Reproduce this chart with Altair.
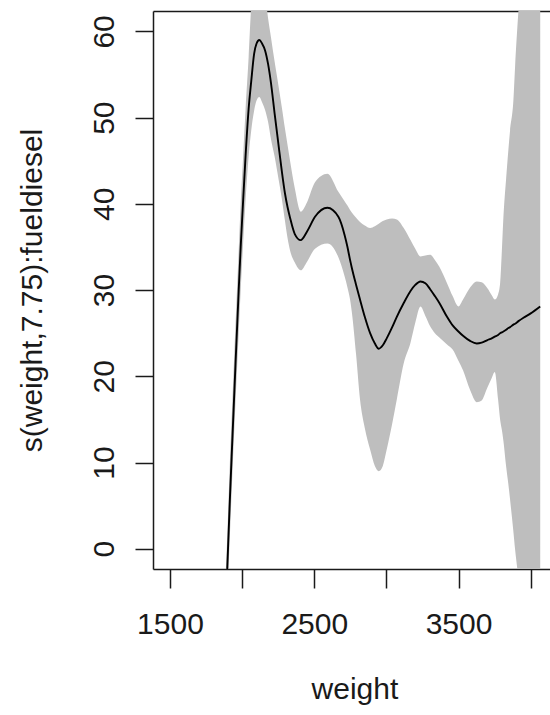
import altair as alt
import pandas as pd

# ---- data ----
weight = [1880, 1897, 1915, 1932, 1954, 1976, 1990, 2007, 2024, 2045, 2063, 2083, 2100, 2119, 2138,
          2159, 2180, 2200, 2225, 2251, 2275, 2297, 2315, 2332, 2365, 2406, 2450, 2505, 2591, 2667,
          2710, 2730, 2748, 2760, 2790, 2817, 2850, 2887, 2920, 2947, 2975, 3002, 3040, 3072, 3120,
          3167, 3200, 3236, 3270, 3303, 3336, 3367, 3420, 3459, 3499, 3531, 3580, 3626, 3660, 3700,
          3730, 3751, 3774, 3788, 3800, 3811, 3830, 3845, 3857, 3880, 3892, 3915, 3950, 4000, 4066]

fit = [-9.8, -2.3, 5.7, 12.6, 21.4, 29.9, 35.0, 40.4, 45.6, 51.0, 54.2, 57.4, 58.6, 59.0, 58.6,
       57.8, 56.2, 54.0, 50.5, 47.0, 43.8, 41.2, 39.6, 38.4, 36.5, 35.8, 36.8, 38.5, 39.55, 38.5,
       36.4, 35.0, 33.5, 32.6, 30.6, 28.9, 26.9, 25.0, 23.8, 23.2, 23.6, 24.4, 25.7, 26.9, 28.5,
       29.9, 30.6, 31.0, 30.8, 30.1, 29.3, 28.5, 26.9, 25.9, 25.2, 24.7, 24.1, 23.8, 23.9, 24.2,
       24.4, 24.6, 24.8, 25.0, 25.1, 25.2, 25.4, 25.6, 25.7, 26.0, 26.1, 26.4, 26.8, 27.3, 28.1]

upper = [-5, 1.5, 10, 17, 26, 34.5, 40, 45.5, 51, 57, 63, 66.5, 68, 68.5, 67.5,
         64.5, 61.5, 59.3, 56.5, 53.8, 51.2, 48.7, 46.8, 45.0, 41.8, 39.1, 40.2, 42.5, 43.5, 41.4,
         40.3, 39.8, 39.3, 39.0, 38.4, 37.9, 37.5, 37.2, 37.4, 37.7, 38.0, 38.2, 38.3, 38.2, 37.2,
         35.8, 34.8, 33.9, 34.0, 34.1, 33.5, 32.7, 30.8, 29.3, 28.1, 28.9, 30.3, 31.0, 30.9, 30.2,
         29.4, 28.9, 29.5, 30.8, 34.5, 38.5, 43.0, 46.2, 48.5, 52.0, 56.0, 62.4, 70, 80, 90]

lower = [-14, -6, 1.5, 8.5, 17, 25, 30, 35.5, 40.5, 45.5, 48.5, 50.8, 52.0, 52.4, 51.8,
         50.9, 49.5, 47.5, 45.5, 43.0, 40.6, 38.0, 36.0, 34.6, 33.2, 32.3, 33.3, 34.8, 35.4, 33.8,
         31.6, 30.3, 28.9, 27.5, 22.5, 17.3, 14.0, 11.5, 9.6, 9.0, 9.6, 11.5, 14.5, 17.3, 21.5,
         23.9, 26.2, 28.1, 27.0, 25.8, 25.0, 24.5, 23.7, 23.1, 21.8, 20.7, 18.4, 17.0, 17.2, 18.7,
         19.8, 20.5, 17.3, 15.0, 13.8, 12.5, 9.5, 7.5, 5.7, 2.0, -0.1, -3.5, -10, -20, -30]

y_ticks = [0, 10, 20, 30, 40, 50, 60]
x_ticks = [1500, 2000, 2500, 3000, 3500, 4000]

x_title = "weight"
y_title = "s(weight,7.75):fueldiesel"

df = pd.DataFrame({"weight": weight, "fit": fit, "upper": upper, "lower": lower})

# ---- styling ----
FONT = "Liberation Sans"
FS = 30
INK = "#1a1a1a"
W, H = 397, 558

xscale = alt.Scale(domain=[1382.2, 4133.8], nice=False, zero=False)
yscale = alt.Scale(domain=[-2.35, 62.37], nice=False, zero=False)

y_axis = alt.Axis(
    orient="left", values=y_ticks, format="d", grid=False,
    domainColor=INK, domainWidth=1.5, tickColor=INK, tickWidth=1.5, tickSize=18,
    labelAngle=270, labelAlign="center", labelBaseline="alphabetic", labelPadding=22,
    labelFont=FONT, labelFontSize=FS, labelColor=INK,
    title=y_title, titleFont=FONT, titleFontSize=FS, titleFontWeight="normal", titleColor=INK,
    titleAngle=270, titleAlign="center", titleBaseline="alphabetic", titleX=-112, titleY=H / 2,
)

x_axis_bottom = alt.Axis(
    orient="bottom", values=x_ticks, grid=False,
    labelExpr="datum.value % 1000 == 500 ? format(datum.value, 'd') : ''",
    domainColor=INK, domainWidth=1.5, tickColor=INK, tickWidth=1.5, tickSize=19,
    labelAlign="center", labelBaseline="alphabetic", labelPadding=45,
    labelFont=FONT, labelFontSize=FS, labelColor=INK, labelOverlap=False,
    title=x_title, titleFont=FONT, titleFontSize=FS, titleFontWeight="normal", titleColor=INK,
    titleAlign="center", titleBaseline="alphabetic", titleX=201.4, titleY=129,
)

x_axis_top = alt.Axis(
    orient="top", grid=False, labels=False, ticks=False, title=None,
    domainColor=INK, domainWidth=1.5,
)

band = alt.Chart(df).mark_area(color="#bebebe", interpolate="monotone", clip=True).encode(
    x=alt.X("weight:Q", scale=xscale, axis=x_axis_top),
    y=alt.Y("upper:Q", scale=yscale, axis=y_axis),
    y2="lower:Q",
)

line = alt.Chart(df).mark_line(color="black", strokeWidth=1.9, interpolate="monotone", clip=True).encode(
    x=alt.X("weight:Q", scale=xscale, axis=x_axis_bottom),
    y=alt.Y("fit:Q", scale=yscale, axis=y_axis),
)

chart = (
    alt.layer(band, line)
    .resolve_axis(x="independent")
    .properties(
        width=W, height=H,
        padding={"left": 153, "top": 11, "right": 0, "bottom": 146},
        autosize=alt.AutoSizeParams(type="none"),
        background="white",
    )
    .configure_view(stroke=None)
)

chart.save("out.html", embed_options={"renderer": "svg", "actions": False})
